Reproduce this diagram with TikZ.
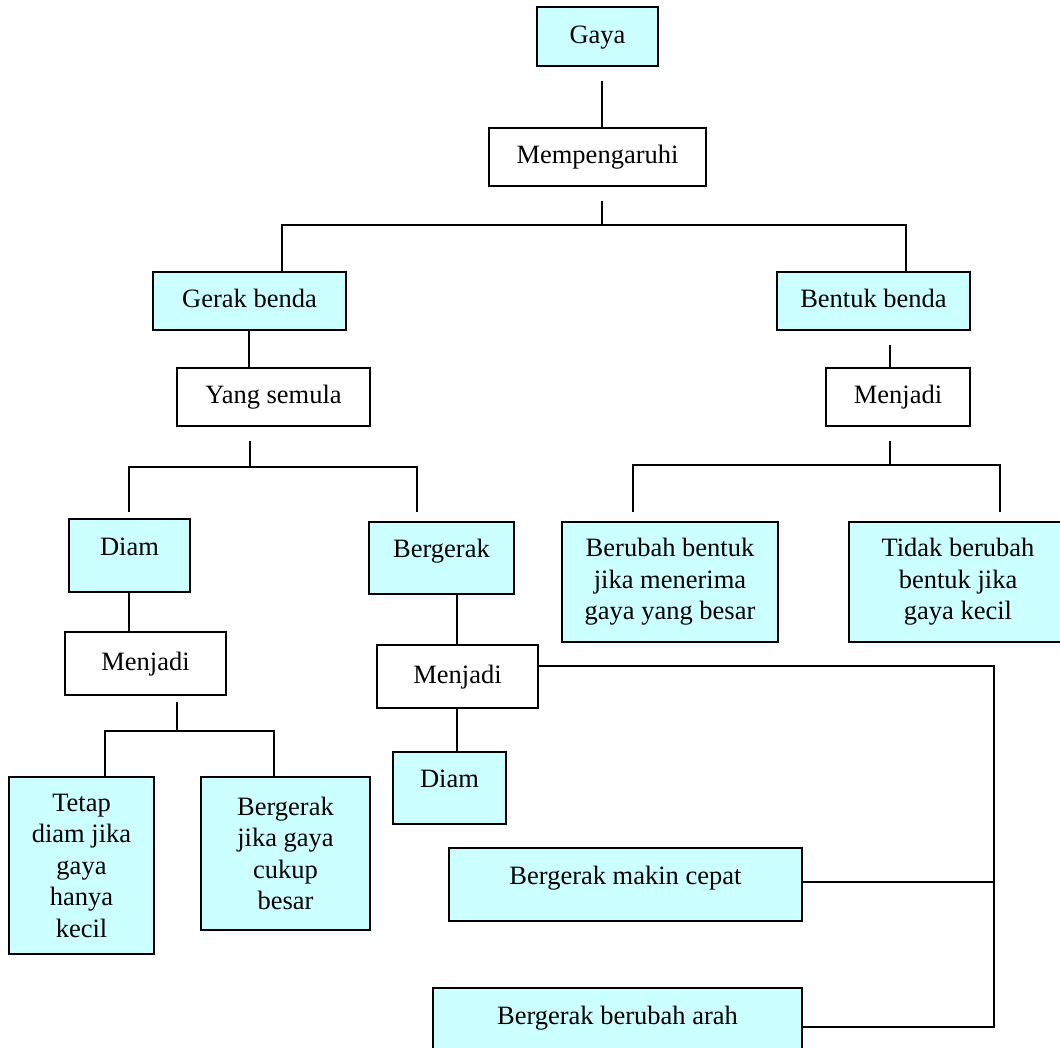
\documentclass[tikz,border=0pt]{standalone}
\usepackage{fontspec}
\setmainfont{Liberation Serif}
\definecolor{birumuda}{HTML}{CCFFFF}

\begin{document}
\begin{tikzpicture}[x=1pt,y=-1pt,
    every node/.style={font=\fontsize{26.5}{31.5}\selectfont},
    kotak/.style={draw,line width=1.8pt,inner sep=0pt,align=center},
    biru/.style={kotak,fill=birumuda},
    satu/.style={text height=18pt,text depth=5pt},
    atas/.style={text height=18pt,text depth=19pt},
    garis/.style={line width=1.8pt}]
  \useasboundingbox (0,0) rectangle (1060,1047);
  \clip (0,0) rectangle (1060,1047);

  \node[biru,satu,minimum width=121pt,minimum height=59pt] (gaya) at (597.5,36.5) {Gaya};
  \node[kotak,satu,minimum width=217pt,minimum height=58pt] (mempengaruhi) at (597.5,157) {Mempengaruhi};
  \node[biru,satu,minimum width=193pt,minimum height=58pt] (gerak) at (249.5,301) {Gerak benda};
  \node[biru,satu,minimum width=193pt,minimum height=58pt] (bentuk) at (873.5,301) {Bentuk benda};
  \node[kotak,satu,minimum width=193pt,minimum height=58pt] (semula) at (273.5,397) {Yang semula};
  \node[kotak,satu,minimum width=144pt,minimum height=58pt] (menjadi_b) at (898,397) {Menjadi};
  \node[biru,atas,minimum width=121pt,minimum height=73pt] (diam_1) at (129.5,555.5) {Diam};
  \node[biru,atas,minimum width=145pt,minimum height=72pt] (bergerak) at (441.5,558) {Bergerak};
  \node[biru,minimum width=216pt,minimum height=120pt] (berubah) at (670,582) {Berubah bentuk\\jika menerima\\gaya yang besar};
  \node[biru,minimum width=218pt,minimum height=120pt] (tidak) at (958,582) {Tidak berubah\\bentuk jika\\gaya kecil};
  \node[kotak,satu,minimum width=161pt,minimum height=63pt] (menjadi_d) at (145.5,663.5) {Menjadi};
  \node[kotak,satu,minimum width=161pt,minimum height=63pt] (menjadi_g) at (457.5,676.5) {Menjadi};
  \node[biru,atas,minimum width=113pt,minimum height=72pt] (diam_2) at (449.5,788) {Diam};
  \node[biru,minimum width=145pt,minimum height=177pt] (tetap) at (81.5,865.5) {Tetap\\diam jika\\gaya\\hanya\\kecil};
  \node[biru,minimum width=169pt,minimum height=153pt] (cukup) at (285.5,853.5) {Bergerak\\jika gaya\\cukup\\besar};
  \node[biru,atas,minimum width=353pt,minimum height=73pt] (cepat) at (625.5,884.5) {Bergerak makin cepat};
  \node[biru,atas,minimum width=369pt,minimum height=73pt] (arah) at (617.5,1024.5) {Bergerak berubah arah};
  \coordinate (tepi) at (994,666);

  % gaya -> mempengaruhi -> gerak / bentuk
  \draw[garis] ([xshift=4.5pt,yshift=-14pt]gaya.south) -- ([xshift=4.5pt]mempengaruhi.north);
  \draw[garis] ([xshift=4.5pt,yshift=-14pt]mempengaruhi.south) -- ++(0,24) coordinate (cabang1);
  \draw[garis] ([xshift=32.5pt]gerak.north) |- (cabang1) -| ([xshift=32.5pt]bentuk.north);

  % gerak benda
  \draw[garis] ([xshift=-0.5pt]gerak.south) -- ([xshift=-0.5pt]gerak.south |- semula.north);
  \draw[garis] ([xshift=-23.5pt,yshift=-14pt]semula.south) -- ++(0,26) coordinate (cabang2);
  \draw[garis] ([xshift=-0.5pt,yshift=6pt]diam_1.north) |- (cabang2) -| ([xshift=-24.5pt,yshift=9pt]bergerak.north);

  % bentuk benda
  \draw[garis] ([xshift=16.5pt,yshift=-14pt]bentuk.south) -- ([xshift=-8pt]menjadi_b.north);
  \draw[garis] ([xshift=-8pt,yshift=-14pt]menjadi_b.south) -- ++(0,24) coordinate (cabang3);
  \draw[garis] ([xshift=-37pt,yshift=9pt]berubah.north) |- (cabang3) -| ([xshift=42pt,yshift=9pt]tidak.north);

  % diam
  \draw[garis] ([xshift=-0.5pt]diam_1.south) -- ([xshift=-0.5pt]diam_1.south |- menjadi_d.north);
  \draw[garis] ([xshift=31.5pt,yshift=-6pt]menjadi_d.south) -- ++(0,29) coordinate (cabang4);
  \draw[garis] ([xshift=23.5pt]tetap.north) |- (cabang4) -| ([xshift=-11.5pt]cukup.north);

  % bergerak
  \draw[garis] ([xshift=15.5pt]bergerak.south) -- ([xshift=15.5pt]bergerak.south |- menjadi_g.north);
  \draw[garis] ([xshift=-0.5pt]menjadi_g.south) -- ([xshift=-0.5pt]menjadi_g.south |- diam_2.north);
  \draw[garis] ([yshift=10.5pt]menjadi_g.east) -- (tepi) |- ([yshift=-2.5pt]arah.east);
  \draw[garis] ([yshift=2.5pt]cepat.east) -- ([yshift=2.5pt]cepat.east -| tepi);
\end{tikzpicture}
\end{document}
